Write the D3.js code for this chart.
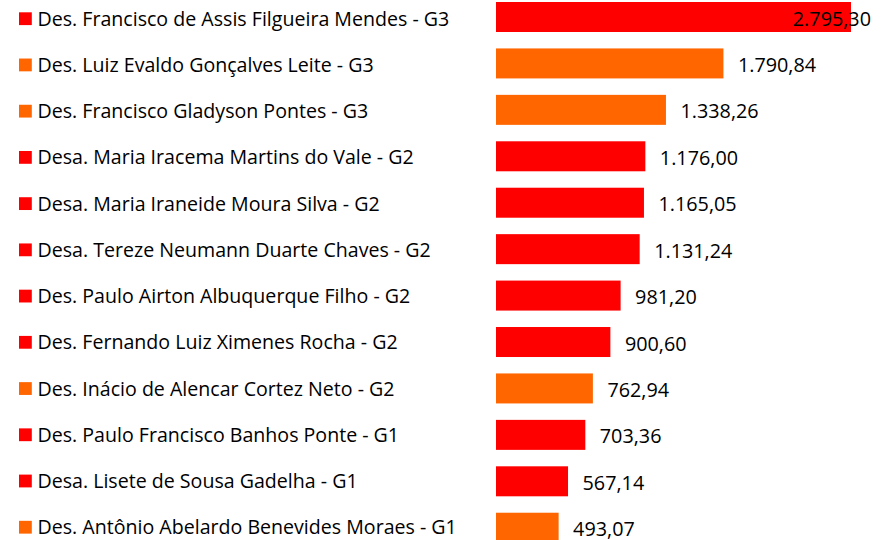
<!DOCTYPE html>
<html>
<head>
<meta charset="utf-8">
<script src="https://cdn.jsdelivr.net/npm/d3@7"></script>
<style>
  body { margin: 0; background: #fff; }
  text { font-family: "Open Sans", sans-serif; fill: #000; }
</style>
</head>
<body>
<div id="chart"></div>
<script>
// data
const names = [
  "Des. Francisco de Assis Filgueira Mendes - G3",
  "Des. Luiz Evaldo Gonçalves Leite - G3",
  "Des. Francisco Gladyson Pontes - G3",
  "Desa. Maria Iracema Martins do Vale - G2",
  "Desa. Maria Iraneide Moura Silva - G2",
  "Desa. Tereze Neumann Duarte Chaves - G2",
  "Des. Paulo Airton Albuquerque Filho - G2",
  "Des. Fernando Luiz Ximenes Rocha - G2",
  "Des. Inácio de Alencar Cortez Neto - G2",
  "Des. Paulo Francisco Banhos Ponte - G1",
  "Desa. Lisete de Sousa Gadelha - G1",
  "Des. Antônio Abelardo Benevides Moraes - G1"
];
const values = [2795.30, 1790.84, 1338.26, 1176.00, 1165.05, 1131.24, 981.20, 900.60, 762.94, 703.36, 567.14, 493.07];
const groups = ["a", "b", "b", "a", "a", "a", "a", "a", "b", "a", "a", "b"];

const width = 893, height = 540;

const svg = d3.select("#chart")
  .append("svg")
    .attr("width", width)
    .attr("height", height);

const color = d3.scaleOrdinal()
  .domain(["a", "b"])
  .range(["#FF0000", "#FF6600"]);

// bars: step ~46.43, bar height 30, first bar top at 2
const step = 46.43;
const y = d3.scaleBand()
  .domain(d3.range(names.length))
  .range([2 - (step - 30) / 2, 2 - (step - 30) / 2 + step * names.length])
  .paddingInner((step - 30) / step)
  .paddingOuter((step - 30) / step / 2);

// legend rows are spaced a bit tighter (baseline of first at ~25.7)
const legStep = 46.23;
const yLeg = d3.scalePoint()
  .domain(d3.range(names.length))
  .range([25.7, 25.7 + legStep * (names.length - 1)]);

const x = d3.scaleLinear()
  .domain([0, 2795.30])
  .range([496, 851]);

const fmt = d3.formatLocale({decimal: ",", thousands: ".", grouping: [3], currency: ["", ""]}).format(",.2f");

const data = names.map((n, i) => ({name: n, value: values[i], group: groups[i], i: i}));

// legend-like labels on the left
const rows = svg.append("g").selectAll("g")
  .data(data)
  .join("g");

rows.append("rect")
    .attr("x", 19)
    .attr("y", d => yLeg(d.i) - 13.4)
    .attr("width", 12.8)
    .attr("height", 12.8)
    .attr("fill", d => color(d.group));

rows.append("text")
    .attr("x", 37.5)
    .attr("y", d => yLeg(d.i))
    .style("font-size", "19.6px")
    .text(d => d.name);

// bars
svg.append("g").selectAll("rect")
  .data(data)
  .join("rect")
    .attr("x", x(0))
    .attr("y", d => y(d.i))
    .attr("width", d => x(d.value) - x(0))
    .attr("height", y.bandwidth())
    .attr("fill", d => color(d.group));

// value labels, kept inside the plot area
svg.append("g").selectAll("text")
  .data(data)
  .join("text")
    .attr("y", d => y(d.i) + y.bandwidth() / 2 + 8.6)
    .style("font-size", "19.8px")
    .text(d => fmt(d.value))
    .attr("x", function(d) {
      const w = this.getComputedTextLength();
      return Math.min(x(d.value) + 14.5, 871 - w);
    });
</script>
</body>
</html>
